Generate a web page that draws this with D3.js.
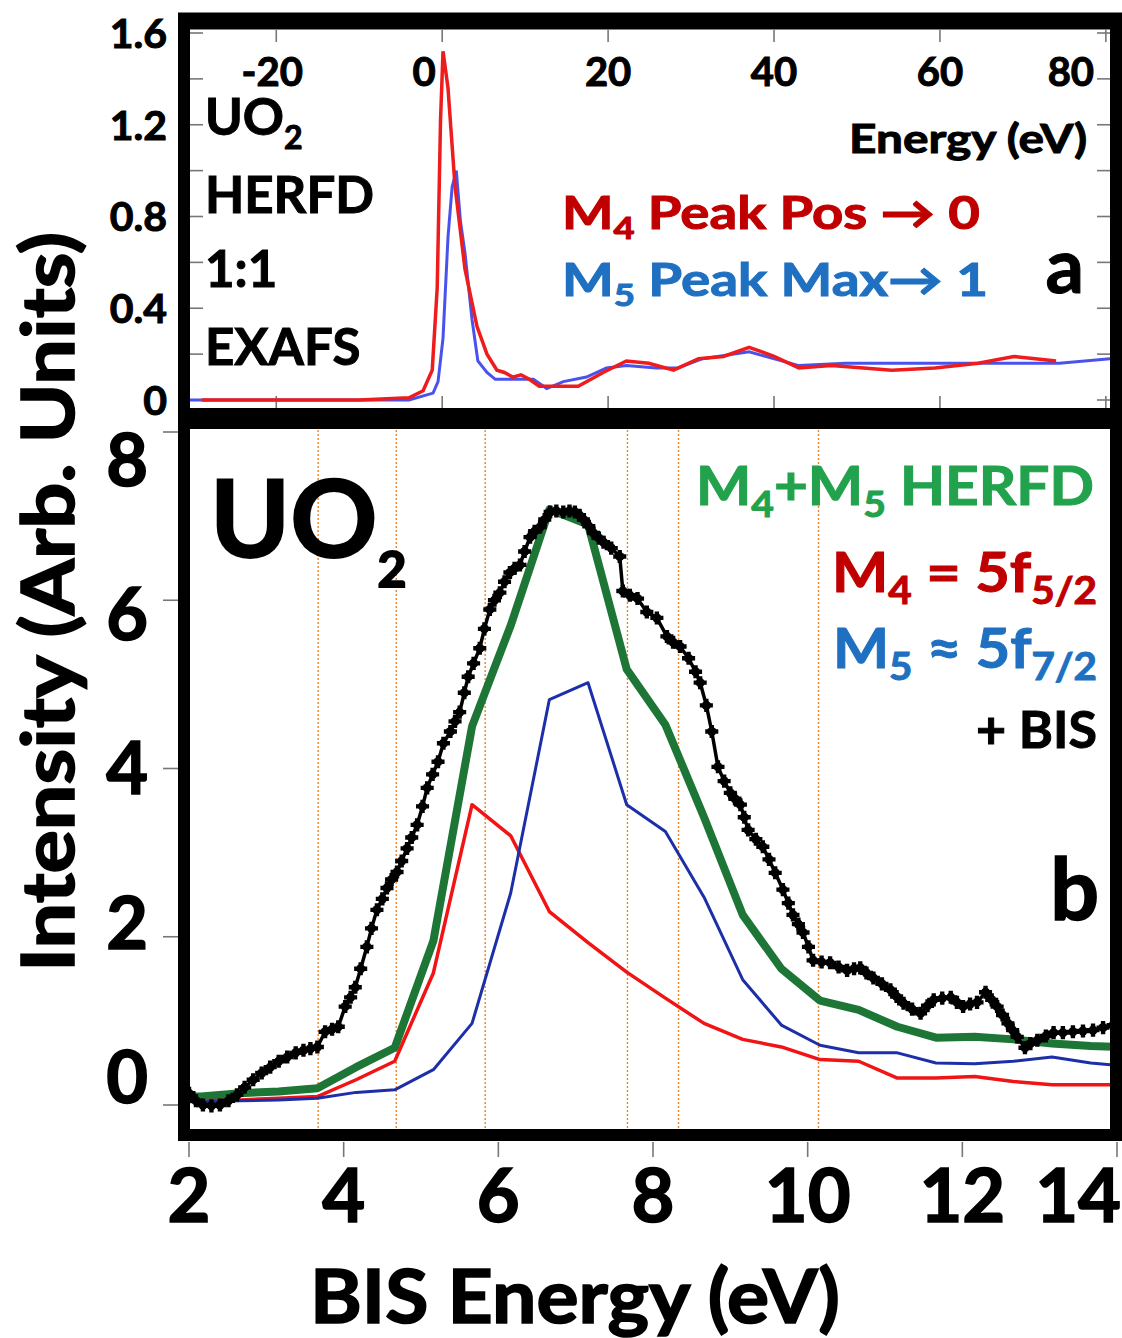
<!DOCTYPE html>
<html lang="en">
<head>
  <meta charset="UTF-8">
  <title>UO2 HERFD / BIS</title>
  <script src="https://d3js.org/d3.v7.min.js"></script>
  <style>
    body {
      margin: 0;
      background: #fff;
    }
    svg {
      display: block;
      font-family: Lato, 'Open Sans', sans-serif;
      font-weight: 700;
    }
    text {
      stroke: #000;
      stroke-width: 1px;
    }
    .tick-mark {
      stroke: #777;
      stroke-width: 1.6px;
    }
    .frame {
      stroke: #000;
      fill: none;
    }
  </style>
</head>
<body>
<svg width="1122" height="1338"></svg>
<script>
  // ---- panel a: M4 / M5 HERFD edges vs relative energy ----
  const topTicksX = [-20, 0, 20, 40, 60, 80];
  const topTicksY = [0, 0.2, 0.4, 0.6, 0.8, 1.0, 1.2, 1.4, 1.6];
  const topLabelsY = [0, 0.4, 0.8, 1.2, 1.6];

  const m4TopEnergy = [-29, -10, -4, -2.3, -1.2, -0.6, -0.2, 0.1, 0.7, 1.55, 2.75, 4.2, 5.4, 6.6, 7.5, 8.5, 9.5, 10.5, 11.7, 12.9, 14.2, 16.4, 19.4, 22.2, 24.9, 27.9, 30.9, 33.9, 37.0, 40, 43, 46.9, 50.8, 54.2, 59.4, 64.6, 68.9, 71.5, 74];
  const m4TopValue = [0.0, 0.0, 0.01, 0.04, 0.13, 0.49, 1.22, 1.52, 1.36, 0.93, 0.57, 0.32, 0.20, 0.13, 0.12, 0.10, 0.11, 0.09, 0.06, 0.06, 0.06, 0.06, 0.12, 0.17, 0.16, 0.13, 0.18, 0.19, 0.23, 0.19, 0.14, 0.15, 0.14, 0.13, 0.14, 0.16, 0.19, 0.18, 0.17];

  const m5TopEnergy = [-30.4, -4, -1.1, -0.5, 0.1, 0.7, 1.2, 1.7, 2.2, 2.75, 3.6, 4.3, 5.4, 6.4, 8, 11, 12.6, 14.6, 17.4, 19.8, 22.2, 25.8, 28.4, 31.4, 37, 43, 48.6, 57.2, 65.9, 74.4, 80.5];
  const m5TopValue = [0.0, 0.0, 0.03, 0.08, 0.27, 0.71, 0.93, 1.0, 0.78, 0.64, 0.35, 0.17, 0.12, 0.09, 0.09, 0.09, 0.05, 0.08, 0.10, 0.14, 0.15, 0.14, 0.14, 0.18, 0.21, 0.15, 0.16, 0.16, 0.16, 0.16, 0.18];

  // ---- panel b: calculated HERFD components and BIS ----
  const bisTicks = [2, 4, 6, 8, 10, 12, 14];
  const intensityTicks = [0, 2, 4, 6, 8];

  const calcEnergy = [2.0, 2.16, 2.66, 3.16, 3.66, 4.16, 4.66, 5.16, 5.66, 6.16, 6.66, 7.16, 7.66, 8.16, 8.66, 9.16, 9.66, 10.16, 10.66, 11.16, 11.66, 12.16, 12.66, 13.16, 13.66, 14.0];
  const m4Calc = [0.05, 0.05, 0.06, 0.08, 0.10, 0.30, 0.52, 1.57, 3.57, 3.20, 2.30, 1.93, 1.58, 1.27, 0.97, 0.78, 0.69, 0.54, 0.52, 0.32, 0.32, 0.34, 0.28, 0.24, 0.24, 0.24];
  const m5Calc = [0.04, 0.04, 0.05, 0.06, 0.08, 0.15, 0.18, 0.42, 0.97, 2.52, 4.82, 5.02, 3.57, 3.25, 2.47, 1.49, 0.95, 0.71, 0.62, 0.62, 0.50, 0.49, 0.52, 0.57, 0.50, 0.47];
  const herfdCalc = [0.10, 0.10, 0.14, 0.16, 0.20, 0.45, 0.68, 1.95, 4.50, 5.70, 7.08, 6.90, 5.18, 4.52, 3.42, 2.26, 1.62, 1.24, 1.13, 0.93, 0.80, 0.81, 0.78, 0.73, 0.70, 0.69];

  const bisEnergy = [2.00, 2.09, 2.18, 2.29, 2.40, 2.51, 2.62, 2.72, 2.83, 2.94, 3.05, 3.16, 3.27, 3.38, 3.48, 3.57, 3.66, 3.76, 3.85, 3.93, 4.02, 4.09, 4.15, 4.22, 4.30, 4.36, 4.43, 4.50, 4.56, 4.62, 4.69, 4.75, 4.82, 4.88, 4.95, 5.02, 5.08, 5.15, 5.22, 5.29, 5.38, 5.44, 5.50, 5.56, 5.61, 5.68, 5.76, 5.82, 5.89, 5.95, 6.02, 6.08, 6.15, 6.21, 6.28, 6.34, 6.41, 6.47, 6.54, 6.60, 6.67, 6.75, 6.84, 6.92, 6.99, 7.05, 7.10, 7.17, 7.23, 7.30, 7.36, 7.46, 7.57, 7.61, 7.70, 7.80, 7.92, 8.05, 8.18, 8.26, 8.35, 8.46, 8.55, 8.61, 8.69, 8.76, 8.84, 8.92, 9.00, 9.06, 9.13, 9.18, 9.23, 9.33, 9.42, 9.50, 9.58, 9.68, 9.75, 9.81, 9.88, 9.94, 10.01, 10.07, 10.18, 10.29, 10.40, 10.51, 10.60, 10.68, 10.76, 10.85, 10.96, 11.07, 11.15, 11.24, 11.35, 11.46, 11.55, 11.63, 11.74, 11.85, 11.93, 12.01, 12.10, 12.19, 12.30, 12.38, 12.45, 12.52, 12.59, 12.65, 12.71, 12.81, 12.88, 12.97, 13.08, 13.18, 13.30, 13.43, 13.56, 13.69, 13.82, 13.95, 14.00];
  const bisIntensity = [0.14, 0.05, 0.00, -0.01, 0.00, 0.05, 0.12, 0.21, 0.30, 0.38, 0.45, 0.52, 0.57, 0.62, 0.65, 0.67, 0.69, 0.87, 0.90, 0.93, 1.17, 1.28, 1.40, 1.62, 1.88, 2.10, 2.32, 2.45, 2.58, 2.68, 2.77, 2.90, 3.05, 3.18, 3.33, 3.55, 3.77, 3.93, 4.08, 4.30, 4.44, 4.56, 4.67, 4.90, 5.09, 5.25, 5.43, 5.66, 5.89, 6.00, 6.09, 6.22, 6.33, 6.38, 6.42, 6.58, 6.75, 6.82, 6.87, 6.96, 7.05, 7.06, 7.05, 7.06, 7.05, 7.01, 6.96, 6.88, 6.80, 6.74, 6.69, 6.62, 6.52, 6.11, 6.06, 6.02, 5.86, 5.79, 5.57, 5.50, 5.45, 5.31, 5.15, 5.02, 4.75, 4.44, 4.02, 3.85, 3.71, 3.64, 3.57, 3.42, 3.27, 3.16, 3.07, 2.92, 2.76, 2.56, 2.40, 2.26, 2.15, 2.05, 1.88, 1.72, 1.70, 1.69, 1.64, 1.60, 1.62, 1.63, 1.57, 1.51, 1.44, 1.37, 1.29, 1.21, 1.14, 1.09, 1.18, 1.25, 1.27, 1.28, 1.22, 1.17, 1.20, 1.22, 1.34, 1.25, 1.17, 1.07, 0.97, 0.89, 0.81, 0.68, 0.73, 0.77, 0.82, 0.86, 0.86, 0.87, 0.88, 0.89, 0.92, 0.95, 0.96];

  const splitEnergies = [3.67, 4.68, 5.83, 7.67, 8.33, 10.14];

  const svg = d3.select("svg");

  // colored text: fill and outline in one colour (inline style beats the css rule)
  const tint = (sel, c) => sel.style("fill", c).style("stroke", c);

  // ================= panel a =================
  const xa = d3.scaleLinear().domain([-30.4, 80.5]).range([190, 1110]);
  const ya = d3.scaleLinear().domain([0, 1.6]).range([400, 33]);

  const ga = svg.append("g");

  ga.append("clipPath").attr("id", "clipA")
          .append("rect").attr("x", 190).attr("y", 30).attr("width", 920).attr("height", 378);

  // inward ticks on all four sides
  const tickA = ga.append("g");
  tickA.selectAll(".tx-top").data(topTicksX).join("line")
          .attr("class", "tick-mark")
          .attr("x1", d => xa(d)).attr("x2", d => xa(d))
          .attr("y1", 30).attr("y2", 42);
  tickA.selectAll(".tx-bot").data(topTicksX).join("line")
          .attr("class", "tick-mark")
          .attr("x1", d => xa(d)).attr("x2", d => xa(d))
          .attr("y1", 408).attr("y2", 396);
  tickA.selectAll(".ty-left").data(topTicksY).join("line")
          .attr("class", "tick-mark")
          .attr("x1", 190).attr("x2", 203)
          .attr("y1", d => ya(d)).attr("y2", d => ya(d));
  tickA.selectAll(".ty-right").data(topTicksY).join("line")
          .attr("class", "tick-mark")
          .attr("x1", 1110).attr("x2", 1097)
          .attr("y1", d => ya(d)).attr("y2", d => ya(d));

  const lineA = d3.line().x(d => xa(d[0])).y(d => ya(d[1]));

  ga.append("path")
          .datum(d3.zip(m5TopEnergy, m5TopValue))
          .attr("clip-path", "url(#clipA)")
          .attr("d", lineA)
          .attr("fill", "none")
          .attr("stroke", "#4a52ee")
          .attr("stroke-width", 3);

  ga.append("path")
          .datum(d3.zip(m4TopEnergy, m4TopValue))
          .attr("clip-path", "url(#clipA)")
          .attr("d", lineA)
          .attr("fill", "none")
          .attr("stroke", "#ee1c1c")
          .attr("stroke-width", 3.5);

  // tick labels
  ga.append("g").selectAll("text").data(topTicksX).join("text")
          .attr("x", d => xa(d) + (d === 0 ? -18 : d === 80 ? -35 : d === -20 ? -4 : 0))
          .attr("y", 86)
          .attr("text-anchor", "middle")
          .attr("font-size", 40)
          .text(d => d);

  ga.append("g").selectAll("text").data(topLabelsY).join("text")
          .attr("x", 167)
          .attr("y", d => ya(d))
          .attr("dy", "0.36em")
          .attr("text-anchor", "end")
          .attr("font-size", 41)
          .text(d => d === 0 ? "0" : d3.format(".1f")(d));

  ga.append("text")
          .attr("x", 849).attr("y", 153)
          .attr("font-size", 41)
          .attr("textLength", 238)
          .attr("lengthAdjust", "spacingAndGlyphs")
          .text("Energy (eV)");

  const sideLabels = ga.append("g").attr("font-size", 51);
  const uo2a = sideLabels.append("text").attr("x", 205).attr("y", 135);
  uo2a.append("tspan").text("UO");
  uo2a.append("tspan").attr("font-size", 32).attr("dy", 14).text("2");
  sideLabels.append("text").attr("x", 205).attr("y", 213).text("HERFD");
  sideLabels.append("text").attr("x", 205).attr("y", 287).text("1:1");
  sideLabels.append("text").attr("x", 205).attr("y", 365).text("EXAFS");

  const m4Note = ga.append("text").attr("x", 562).attr("y", 229).attr("font-size", 45)
          .attr("textLength", 418).attr("lengthAdjust", "spacingAndGlyphs");
  tint(m4Note, "#c00000");
  m4Note.append("tspan").text("M");
  m4Note.append("tspan").attr("font-size", 30).attr("dy", 10).text("4");
  m4Note.append("tspan").attr("dy", -10).text(" Peak Pos \u2192 0");

  const m5Note = ga.append("text").attr("x", 562).attr("y", 296).attr("font-size", 45)
          .attr("textLength", 426).attr("lengthAdjust", "spacingAndGlyphs");
  tint(m5Note, "#1f70c1");
  m5Note.append("tspan").text("M");
  m5Note.append("tspan").attr("font-size", 30).attr("dy", 10).text("5");
  m5Note.append("tspan").attr("dy", -10).text(" Peak Max\u2192 1");

  ga.append("text")
          .attr("x", 1084).attr("y", 293)
          .attr("text-anchor", "end")
          .attr("font-size", 76)
          .text("a");

  // frame a (top edge drawn heavier, as in the figure)
  ga.append("rect").attr("class", "frame")
          .attr("x", 184).attr("y", 21).attr("width", 932).attr("height", 393)
          .attr("stroke-width", 12);
  ga.append("line")
          .attr("x1", 178).attr("x2", 1122)
          .attr("y1", 21).attr("y2", 21)
          .attr("stroke", "#000")
          .attr("stroke-width", 17);

  // ================= panel b =================
  const xb = d3.scaleLinear().domain([2, 14]).range([189, 1117]);
  const yb = d3.scaleLinear().domain([0, 8]).range([1105, 432]);
  const yLabel = d3.scaleLinear().domain([0, 8]).range([1077, 460]);

  const gb = svg.append("g");

  gb.append("clipPath").attr("id", "clipB")
          .append("rect").attr("x", 190).attr("y", 426).attr("width", 923).attr("height", 703);

  gb.append("g").selectAll("line").data(splitEnergies).join("line")
          .attr("x1", d => xb(d)).attr("x2", d => xb(d))
          .attr("y1", 426).attr("y2", 1129)
          .attr("stroke", "#e8862e")
          .attr("stroke-width", 1.4)
          .attr("stroke-dasharray", "2,2");

  const lineB = d3.line().x(d => xb(d[0])).y(d => yb(d[1]));

  const calcSeries = [
    { values: herfdCalc, color: "#1d7536", width: 8 },
    { values: m4Calc, color: "#f01414", width: 3.5 },
    { values: m5Calc, color: "#1c2fa8", width: 3 }
  ];

  gb.append("g").attr("clip-path", "url(#clipB)")
          .selectAll("path").data(calcSeries).join("path")
          .attr("d", s => lineB(d3.zip(calcEnergy, s.values)))
          .attr("fill", "none")
          .attr("stroke", s => s.color)
          .attr("stroke-width", s => s.width)
          .attr("stroke-linejoin", "round");

  const bis = d3.zip(bisEnergy, bisIntensity);
  const bisG = gb.append("g").attr("clip-path", "url(#clipB)");
  bisG.append("path")
          .datum(bis)
          .attr("d", lineB)
          .attr("fill", "none")
          .attr("stroke", "#000")
          .attr("stroke-width", 3.5);
  bisG.selectAll("circle").data(bis).join("circle")
          .attr("cx", d => xb(d[0]))
          .attr("cy", d => yb(d[1]))
          .attr("r", 4.6)
          .attr("fill", "#000");
  bisG.selectAll(".cross").data(bis).join("path")
          .attr("class", "cross")
          .attr("transform", d => `translate(${xb(d[0])},${yb(d[1])})`)
          .attr("d", d3.symbol().type(d3.symbolCross).size(95))
          .attr("fill", "#000");

  // outside ticks
  gb.append("g").selectAll("line").data(intensityTicks).join("line")
          .attr("class", "tick-mark")
          .attr("x1", 163).attr("x2", 178)
          .attr("y1", d => yb(d)).attr("y2", d => yb(d));
  gb.append("g").selectAll("line").data(bisTicks).join("line")
          .attr("class", "tick-mark")
          .attr("x1", d => xb(d)).attr("x2", d => xb(d))
          .attr("y1", 1142).attr("y2", 1157);

  gb.append("g").selectAll("text").data(intensityTicks).join("text")
          .attr("x", 148)
          .attr("y", d => yLabel(d))
          .attr("dy", "0.36em")
          .attr("text-anchor", "end")
          .attr("font-size", 72)
          .style("stroke-width", "1.6px")
          .text(d => d);

  gb.append("g").selectAll("text").data(bisTicks).join("text")
          .attr("x", d => d === 14 ? 1121 : xb(d))
          .attr("y", 1222)
          .attr("text-anchor", d => d === 14 ? "end" : "middle")
          .attr("font-size", 74)
          .style("stroke-width", "1.6px")
          .text(d => d);

  gb.append("text")
          .attr("x", 310).attr("y", 1323)
          .attr("font-size", 74)
          .attr("textLength", 530)
          .attr("lengthAdjust", "spacingAndGlyphs")
          .style("stroke-width", "1.6px")
          .text("BIS Energy (eV)");

  svg.append("text")
          .attr("transform", "translate(74,972) rotate(-90)")
          .attr("font-size", 72)
          .attr("textLength", 740)
          .attr("lengthAdjust", "spacingAndGlyphs")
          .style("stroke-width", "1.6px")
          .text("Intensity (Arb. Units)");

  const uo2b = gb.append("text").attr("x", 210).attr("y", 557).attr("font-size", 108)
          .style("stroke-width", "2px");
  uo2b.append("tspan").text("UO");
  uo2b.append("tspan").attr("font-size", 50).attr("dy", 30).text("2");

  const legendB = gb.append("g").attr("text-anchor", "end");
  const herfdLab = legendB.append("text").attr("x", 1094).attr("y", 505).attr("font-size", 54)
          .attr("textLength", 398).attr("lengthAdjust", "spacingAndGlyphs");
  tint(herfdLab, "#22a24c");
  herfdLab.append("tspan").text("M");
  herfdLab.append("tspan").attr("font-size", 36).attr("dy", 12).text("4");
  herfdLab.append("tspan").attr("dy", -12).text("+M");
  herfdLab.append("tspan").attr("font-size", 36).attr("dy", 12).text("5");
  herfdLab.append("tspan").attr("dy", -12).text(" HERFD");

  const m4Lab = legendB.append("text").attr("x", 1097).attr("y", 592).attr("font-size", 56)
          .attr("textLength", 265).attr("lengthAdjust", "spacingAndGlyphs");
  tint(m4Lab, "#c00000");
  m4Lab.append("tspan").text("M");
  m4Lab.append("tspan").attr("font-size", 38).attr("dy", 12).text("4");
  m4Lab.append("tspan").attr("dy", -12).text(" = 5f");
  m4Lab.append("tspan").attr("font-size", 38).attr("dy", 12).text("5/2");

  const m5Lab = legendB.append("text").attr("x", 1097).attr("y", 668).attr("font-size", 56)
          .attr("textLength", 264).attr("lengthAdjust", "spacingAndGlyphs");
  tint(m5Lab, "#1f70c1");
  m5Lab.append("tspan").text("M");
  m5Lab.append("tspan").attr("font-size", 38).attr("dy", 12).text("5");
  m5Lab.append("tspan").attr("dy", -12).text(" \u2248 5f");
  m5Lab.append("tspan").attr("font-size", 38).attr("dy", 12).text("7/2");

  legendB.append("text").attr("x", 1097).attr("y", 748).attr("font-size", 52).text("+ BIS");

  legendB.append("text").attr("x", 1099).attr("y", 920).attr("font-size", 86)
          .style("stroke-width", "1.6px").text("b");

  // frame b
  gb.append("rect").attr("class", "frame")
          .attr("x", 184).attr("y", 423).attr("width", 932).attr("height", 712)
          .attr("stroke-width", 12);
</script>
</body>
</html>
